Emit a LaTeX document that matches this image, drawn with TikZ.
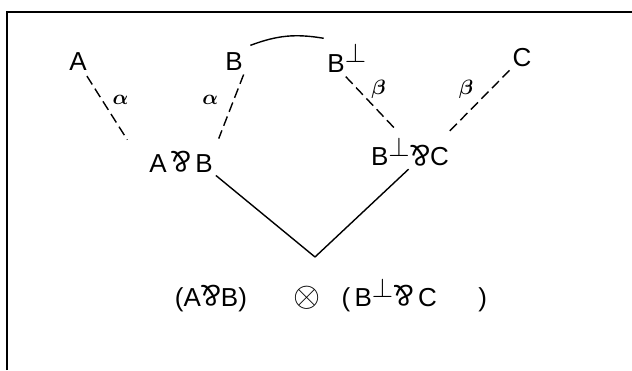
\documentclass[tikz,border=0pt]{standalone}
\usepackage{fontspec}
\setmainfont{Liberation Sans}
\usepackage{amsmath,amssymb}
\usepackage{graphicx}
\usepackage{tikz}
\usetikzlibrary{positioning}

\newcommand{\parr}{\scalebox{1.15}{\rotatebox[origin=c]{180}{\&}}}
\newcommand{\dual}{$^{\scalebox{1.1}{$\perp$}}$}

\begin{document}
\begin{tikzpicture}[x=1pt,y=1pt,line width=1.4pt,
                    every node/.style={font=\fontsize{26}{30}\selectfont, inner sep=1pt},
                    axiom/.style={dash pattern=on 10pt off 5pt},
                    link/.style={shorten <=2pt},
                    lbl/.style={font=\fontsize{22}{26}\selectfont\boldmath}]
\useasboundingbox (0,-370) rectangle (632,0);
\draw[line width=1.8pt] (7,-370) -- (7,-12) -- (632,-12);
% formulas
\node (A) at (78,-62) {A};
\node (B) at (234,-62) {B};
\node (Bp) at (347,-58) {B\dual};
\node (C) at (522,-58) {C};
\node (AB) at (181,-162) {A\,\parr\,B};
\node (BC) at (410,-152) {B\dual\parr C};
\coordinate (tensor) at (315,-257);
\node (conc) at (331,-295) {(A\parr B)\hspace{1.8em}\scalebox{1.4}{$\otimes$}\hspace{0.8em}(\,B\dual\parr\,C\hspace{1.6em})};
% axiom links
\draw[axiom, shorten <=4pt, shorten >=12pt] (A) -- ([xshift=-14pt]AB.north west) node[lbl, pos=.35, right=9pt] {$\alpha$};
\draw[axiom, shorten <=2pt, shorten >=12pt] (B.south east) -- (AB.north east) node[lbl, pos=.35, left=14pt] {$\alpha$};
\draw[axiom, shorten <=4pt, shorten >=8pt] ([xshift=-4pt]Bp.south) -- ([xshift=-8pt]BC.north) node[lbl, pos=.25, right=12pt] {$\beta$};
\draw[axiom, shorten <=2pt, shorten >=6pt] (C.south west) -- ([xshift=-6pt]BC.north east) node[lbl, pos=.3, left=16pt] {$\beta$};
\draw ([shift={(6pt,6pt)}]B.north east) to[bend left=15] ([shift={(-2pt,4pt)}]Bp.north west);
% tensor
\draw[link] (AB.south east) -- (tensor);
\draw[link] (BC.south) -- (tensor);
\end{tikzpicture}
\end{document}
